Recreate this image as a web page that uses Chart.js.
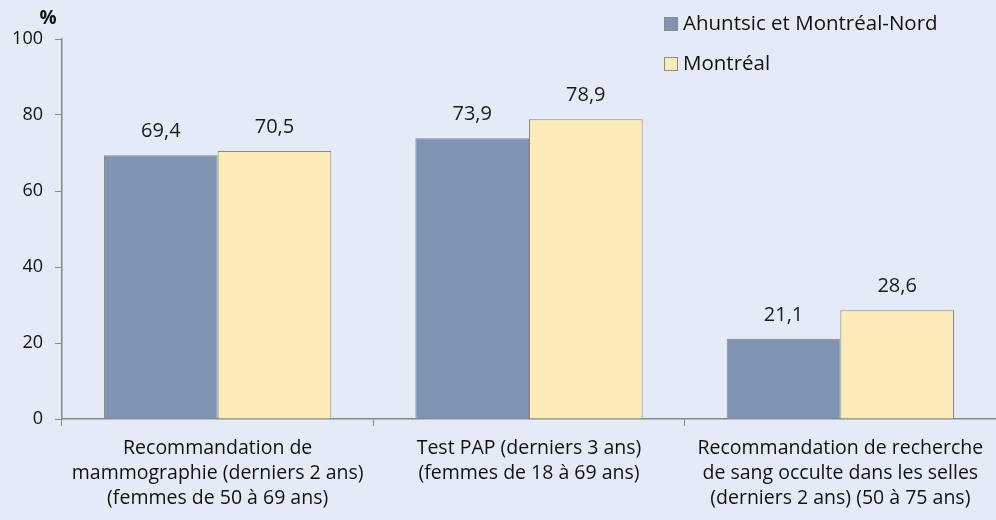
<!DOCTYPE html>
<html>
<head>
<meta charset="utf-8">
<script src="https://cdn.jsdelivr.net/npm/chart.js@4"></script>
<style>
  html, body { margin: 0; padding: 0; background: #E4EBF6; }
  #wrap { width: 996px; height: 520px; }
</style>
</head>
<body>
<div id="wrap"><canvas id="chart"></canvas></div>
<script>
  var categories = [
    ['Recommandation de', 'mammographie (derniers 2 ans)', '(femmes de 50 à 69 ans)'],
    ['Test PAP (derniers 3 ans)', '(femmes de 18 à 69 ans)'],
    ['Recommandation de recherche', 'de sang occulte dans les selles', '(derniers 2 ans) (50 à 75 ans)']
  ];
  var seriesNames = ['Ahuntsic et Montréal-Nord', 'Montréal'];
  var ahuntsic = [69.4, 73.9, 21.1];
  var montreal = [70.5, 78.9, 28.6];
  var yTicks = [0, 20, 40, 60, 80, 100];

  var FONT = '"Open Sans", sans-serif';

  // value labels above bars
  var valueLabels = {
    id: 'valueLabels',
    afterDatasetsDraw: function (chart) {
      var ctx = chart.ctx;
      ctx.save();
      ctx.font = '20px ' + FONT;
      ctx.fillStyle = '#1a1a1a';
      ctx.textAlign = 'center';
      ctx.textBaseline = 'middle';
      chart.data.datasets.forEach(function (ds, i) {
        chart.getDatasetMeta(i).data.forEach(function (bar, j) {
          ctx.fillText(ds.data[j].toFixed(1).replace('.', ','), bar.x, bar.y - 24);
        });
      });
      ctx.restore();
    }
  };

  // "%" title and legend in the top right
  var extras = {
    id: 'extras',
    afterDraw: function (chart) {
      var ctx = chart.ctx;
      ctx.save();
      ctx.font = 'bold 19px ' + FONT;
      ctx.fillStyle = '#111';
      ctx.textAlign = 'center';
      ctx.textBaseline = 'middle';
      ctx.fillText('%', 48, 19);

      ctx.font = '20.5px ' + FONT;
      ctx.textAlign = 'left';
      chart.data.datasets.forEach(function (ds, i) {
        var y = 24 + i * 40;
        ctx.fillStyle = ds.backgroundColor;
        ctx.fillRect(664.5, y - 6.5, 13, 13);
        ctx.strokeStyle = '#8a8a8a';
        ctx.lineWidth = 1;
        ctx.strokeRect(664.5, y - 6.5, 13, 13);
        ctx.fillStyle = '#111';
        ctx.fillText(ds.label, 683, y);
      });
      ctx.restore();
    }
  };

  new Chart(document.getElementById('chart'), {
    type: 'bar',
    data: {
      labels: categories,
      datasets: [
        {
          label: seriesNames[0],
          data: ahuntsic,
          backgroundColor: '#7E94B2',
          borderColor: '#888888',
          borderWidth: 1
        },
        {
          label: seriesNames[1],
          data: montreal,
          backgroundColor: '#FBEBBB',
          borderColor: '#888888',
          borderWidth: 1
        }
      ]
    },
    options: {
      responsive: true,
      maintainAspectRatio: false,
      animation: false,
      datasets: {
        bar: { categoryPercentage: 0.73, barPercentage: 1 }
      },
      layout: { padding: { top: 39, right: 0, bottom: 0, left: 0 } },
      plugins: {
        legend: { display: false },
        tooltip: { enabled: false }
      },
      scales: {
        x: {
          grid: {
            offset: true,
            drawOnChartArea: false,
            drawTicks: true,
            tickLength: 7,
            color: '#888888'
          },
          border: { color: '#888888', width: 1.5 },
          ticks: {
            color: '#111',
            font: { family: FONT, size: 19.5, lineHeight: 1.28 },
            padding: 10,
            maxRotation: 0,
            autoSkip: false
          },
          afterFit: function (scale) { scale.height = 101; }
        },
        y: {
          min: 0,
          max: 100,
          afterBuildTicks: function (scale) {
            scale.ticks = yTicks.map(function (v) { return { value: v }; });
          },
          grid: {
            drawOnChartArea: false,
            drawTicks: true,
            tickLength: 7,
            color: '#888888'
          },
          border: { color: '#888888', width: 1.5 },
          ticks: {
            color: '#111',
            font: { family: FONT, size: 18 },
            padding: 12
          },
          afterFit: function (scale) { scale.width = 62; }
        }
      }
    },
    plugins: [valueLabels, extras]
  });
</script>
</body>
</html>
